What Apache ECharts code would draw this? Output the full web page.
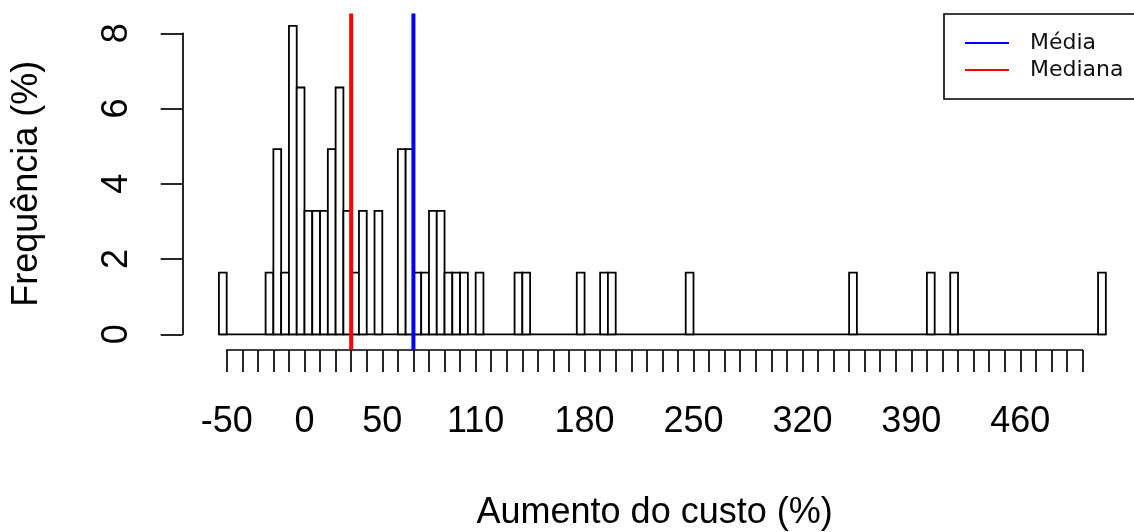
<!DOCTYPE html>
<html>
<head>
<meta charset="utf-8">
<script src="https://cdn.jsdelivr.net/npm/echarts@6/dist/echarts.min.js"></script>
<style>
  html, body { margin: 0; padding: 0; background: #fff; }
  #chart { width: 1134px; height: 532px; }
</style>
</head>
<body>
<div id="chart"></div>
<script>
// Histogram of cost increase (%), bins of width 5; only non-empty bins listed
const binWidth = 5;
const binStart = [-55, -25, -20, -15, -10, -5, 0, 5, 10, 15, 20, 25, 30, 35, 45, 60, 65, 70, 75, 80,
                  85, 90, 95, 100, 110, 135, 140, 175, 190, 195, 245, 350, 400, 415, 510];
const binPct = [1.64, 1.64, 4.92, 1.64, 8.20, 6.56, 3.28, 3.28, 3.28, 4.92, 6.56, 3.28, 1.64, 3.28, 3.28,
                4.92, 4.92, 1.64, 1.64, 3.28, 3.28, 1.64, 1.64, 1.64, 1.64, 1.64, 1.64, 1.64, 1.64, 1.64,
                1.64, 1.64, 1.64, 1.64, 1.64];
// Full range of the histogram breaks (empty bins draw as a flat baseline)
const histRange = [-55, 515];

const meanValue = 70;
const medianValue = 30;

// x-axis labels that are printed (the rest of the 10-unit ticks stay unlabelled)
const xTickLabels = ['-50', '0', '50', '110', '180', '250', '320', '390', '460'];

const AXIS_FONT = '"Liberation Sans", Arial, sans-serif';

const barData = binStart.map((s, i) => [s, s + binWidth, binPct[i]]);
const yMax = Math.max(...binPct);
const yPad = 0.04 * yMax;
// reference lines run from just above the top of the plot down to the x-axis line
const refLineLow = -1.25 * yPad;
const refLineHigh = yMax + yPad;

const chart = echarts.init(document.getElementById('chart'), null, { renderer: 'canvas' });

chart.setOption({
  animation: false,
  backgroundColor: '#ffffff',
  grid: {
    left: 226.7, right: 51.5, top: 33.3, bottom: 197.7,
    containLabel: false,
    outerBoundsMode: 'none'
  },
  legend: {
    orient: 'vertical',
    left: 944,
    top: 14,
    padding: [18, 30, 18, 21],
    itemGap: 5,
    itemWidth: 44,
    itemHeight: 2,
    icon: 'rect',
    borderColor: '#000',
    borderWidth: 1.6,
    backgroundColor: '#fff',
    textStyle: {
      fontFamily: '"DejaVu Sans", sans-serif',
      fontSize: 22,
      lineHeight: 22,
      color: '#111',
      padding: [0, 0, 0, 16]
    },
    data: ['Média', 'Mediana']
  },
  xAxis: {
    type: 'value',
    min: -50,
    max: 500,
    interval: 10,
    offset: 15.7,
    splitLine: { show: false },
    axisLine: { show: true, onZero: false, lineStyle: { color: '#000', width: 1.7 } },
    axisTick: { show: true, length: 22, lineStyle: { color: '#000', width: 1.7 } },
    axisLabel: {
      show: true,
      showMinLabel: true,
      showMaxLabel: true,
      margin: 54,
      fontFamily: AXIS_FONT,
      fontSize: 36,
      color: '#000',
      formatter: v => (xTickLabels.includes(String(v)) ? String(v) : '')
    },
    name: 'Aumento do custo (%)',
    nameLocation: 'middle',
    nameGap: 145,
    nameTextStyle: { fontFamily: AXIS_FONT, fontSize: 36, color: '#000' }
  },
  yAxis: {
    type: 'value',
    min: 0,
    max: 8,
    interval: 2,
    offset: 44,
    splitLine: { show: false },
    axisLine: { show: true, onZero: false, lineStyle: { color: '#000', width: 1.7 } },
    axisTick: { show: true, length: 22, lineStyle: { color: '#000', width: 1.7 } },
    axisLabel: {
      rotate: 90,
      margin: 48,
      fontFamily: AXIS_FONT,
      fontSize: 36,
      color: '#000'
    },
    name: 'Frequência (%)',
    nameLocation: 'middle',
    nameRotate: 90,
    nameGap: 138,
    nameTextStyle: { fontFamily: AXIS_FONT, fontSize: 36, color: '#000' }
  },
  series: [
    {
      // flat baseline across the whole break range
      type: 'custom',
      clip: false,
      silent: true,
      data: [[histRange[0], histRange[1]]],
      encode: { x: [0, 1] },
      renderItem: (params, api) => {
        const a = api.coord([api.value(0), 0]);
        const b = api.coord([api.value(1), 0]);
        return {
          type: 'line',
          shape: { x1: a[0], y1: a[1], x2: b[0], y2: b[1] },
          style: { stroke: '#000', lineWidth: 1.8 }
        };
      },
      z: 1
    },
    {
      type: 'custom',
      clip: false,
      silent: true,
      data: barData,
      encode: { x: [0, 1], y: 2 },
      renderItem: (params, api) => {
        const p0 = api.coord([api.value(0), 0]);
        const p1 = api.coord([api.value(1), api.value(2)]);
        return {
          type: 'rect',
          shape: { x: p0[0], y: p1[1], width: p1[0] - p0[0], height: p0[1] - p1[1] },
          style: { fill: '#ffffff', stroke: '#000000', lineWidth: 1.8 }
        };
      },
      z: 2
    },
    {
      name: 'Média',
      type: 'line',
      clip: false,
      symbol: 'none',
      color: '#0000ff',
      data: [[meanValue, refLineLow], [meanValue, refLineHigh]],
      lineStyle: { color: '#0000ff', width: 4 },
      z: 3
    },
    {
      name: 'Mediana',
      type: 'line',
      clip: false,
      symbol: 'none',
      color: '#ff0000',
      data: [[medianValue, refLineLow], [medianValue, refLineHigh]],
      lineStyle: { color: '#ff0000', width: 4 },
      z: 3
    }
  ]
});
</script>
</body>
</html>
